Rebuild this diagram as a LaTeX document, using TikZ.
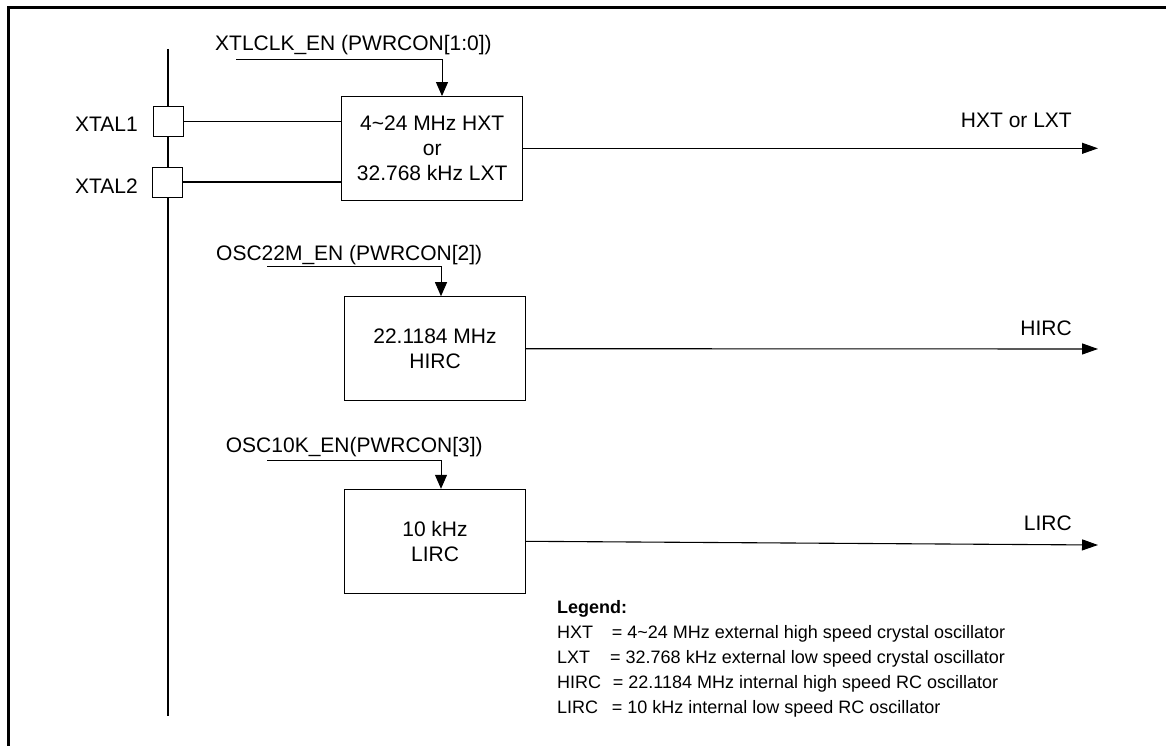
\documentclass[tikz,border=0pt]{standalone}
\usepackage{fontspec}
\setmainfont{Liberation Sans}
\usetikzlibrary{arrows.meta}
\begin{document}
\begin{tikzpicture}[x=1pt,y=-1pt,
  every node/.style={inner sep=0pt, font=\fontsize{21}{25}\selectfont},
  oscbox/.style={draw, line width=1pt, minimum width=181.5pt, minimum height=103.5pt, align=center},
  pad/.style={draw, line width=1pt, fill=white, minimum size=30pt},
  wire/.style={line width=1.6pt},
  bus/.style={line width=2pt},
  ctl/.style={line width=1pt, -{Triangle[length=14pt,width=12pt]}},
  outarr/.style={line width=1.1pt, -{Triangle[length=16pt,width=11pt]}},
  legtxt/.style={font=\fontsize{18}{25}\selectfont, anchor=base west},
  frameline/.style={line width=3pt}
]
\useasboundingbox (0,0) rectangle (1166,746);
% frame (partial)
\coordinate (fl) at (8,7.5);
\coordinate (fr) at (1170,7.5);
\coordinate (fb) at (8,750);
\draw[frameline] (fr) -- (fl) -- (fb);

% bus
\coordinate (bustop) at (167.5,49);
\coordinate (busbot) at (167.5,716);
\draw[bus] (bustop) -- (busbot);

% pads
\node[pad] (x1) at (168,121.5) {};
\node[pad] (x2) at (167.5,182.3) {};
\node[anchor=base east] (x1l) at (138,131.7) {XTAL1};
\node[anchor=base east] (x2l) at (138,193.3) {XTAL2};

% oscillator boxes
\node[oscbox] (hxt) at (432.2,148.3) {4\textasciitilde 24 MHz HXT\\or\\32.768 kHz LXT};
\node[oscbox, minimum width=181.4pt, minimum height=104pt] (hirc) at (435,348.7) {22.1184 MHz\\HIRC};
\node[oscbox, minimum width=181.4pt, minimum height=104pt] (lirc) at (435,541.3) {10 kHz\\LIRC};

% crystal wires
\draw[wire] (x1.east) -- (x1.east -| hxt.west);
\draw[wire] (x2.east) -- (x2.east -| hxt.west);

% enable labels and lines
\node[anchor=base west] (en1) at (215,51) {XTLCLK\_EN (PWRCON[1:0])};
\node[anchor=base west] (en2) at (216,260) {OSC22M\_EN (PWRCON[2])};
\node[anchor=base west] (en3) at (225.7,452.3) {OSC10K\_EN(PWRCON[3])};
\coordinate (c1) at (236,59.3);
\coordinate (c1x) at (442,0);
\coordinate (c2) at (267.3,266.7);
\coordinate (c3) at (267.3,460);
\coordinate (c2x) at (441,0);
\draw[ctl] (c1) -| (c1x |- hxt.north);
\draw[ctl] (c2) -| (c2x |- hirc.north);
\draw[ctl] (c3) -| (c2x |- lirc.north);

% outputs
\coordinate (o1) at (1098,148.3);
\coordinate (o2) at (1098,349);
\coordinate (o3) at (1098,545);
\draw[outarr] (hxt.east) -- (o1);
\draw[outarr] (hirc.east) -- (o2);
\draw[outarr] (lirc.east) -- (o3);
\node[anchor=base east] (o1l) at (1072,127.7) {HXT or LXT};
\node[anchor=base east] (o2l) at (1072,335) {HIRC};
\node[anchor=base east] (o3l) at (1072,530) {LIRC};

% legend
\node[legtxt, font=\fontsize{18}{25}\selectfont\bfseries] (leg) at (557,613.3) {Legend:};
\node[legtxt] (lg1a) at (557,638.3) {HXT};
\node[legtxt] (lg1b) at (611.7,638.3) {= 4\textasciitilde 24 MHz external high speed crystal oscillator};
\node[legtxt] (lg2a) at (557,663.3) {LXT};
\node[legtxt] (lg2b) at (610,663.3) {= 32.768 kHz external low speed crystal oscillator};
\node[legtxt] (lg3a) at (557,688.3) {HIRC};
\node[legtxt] (lg3b) at (612.7,688.3) {= 22.1184 MHz internal high speed RC oscillator};
\node[legtxt] (lg4a) at (557,713.3) {LIRC};
\node[legtxt] (lg4b) at (611.7,713.3) {= 10 kHz internal low speed RC oscillator};
\end{tikzpicture}
\end{document}
